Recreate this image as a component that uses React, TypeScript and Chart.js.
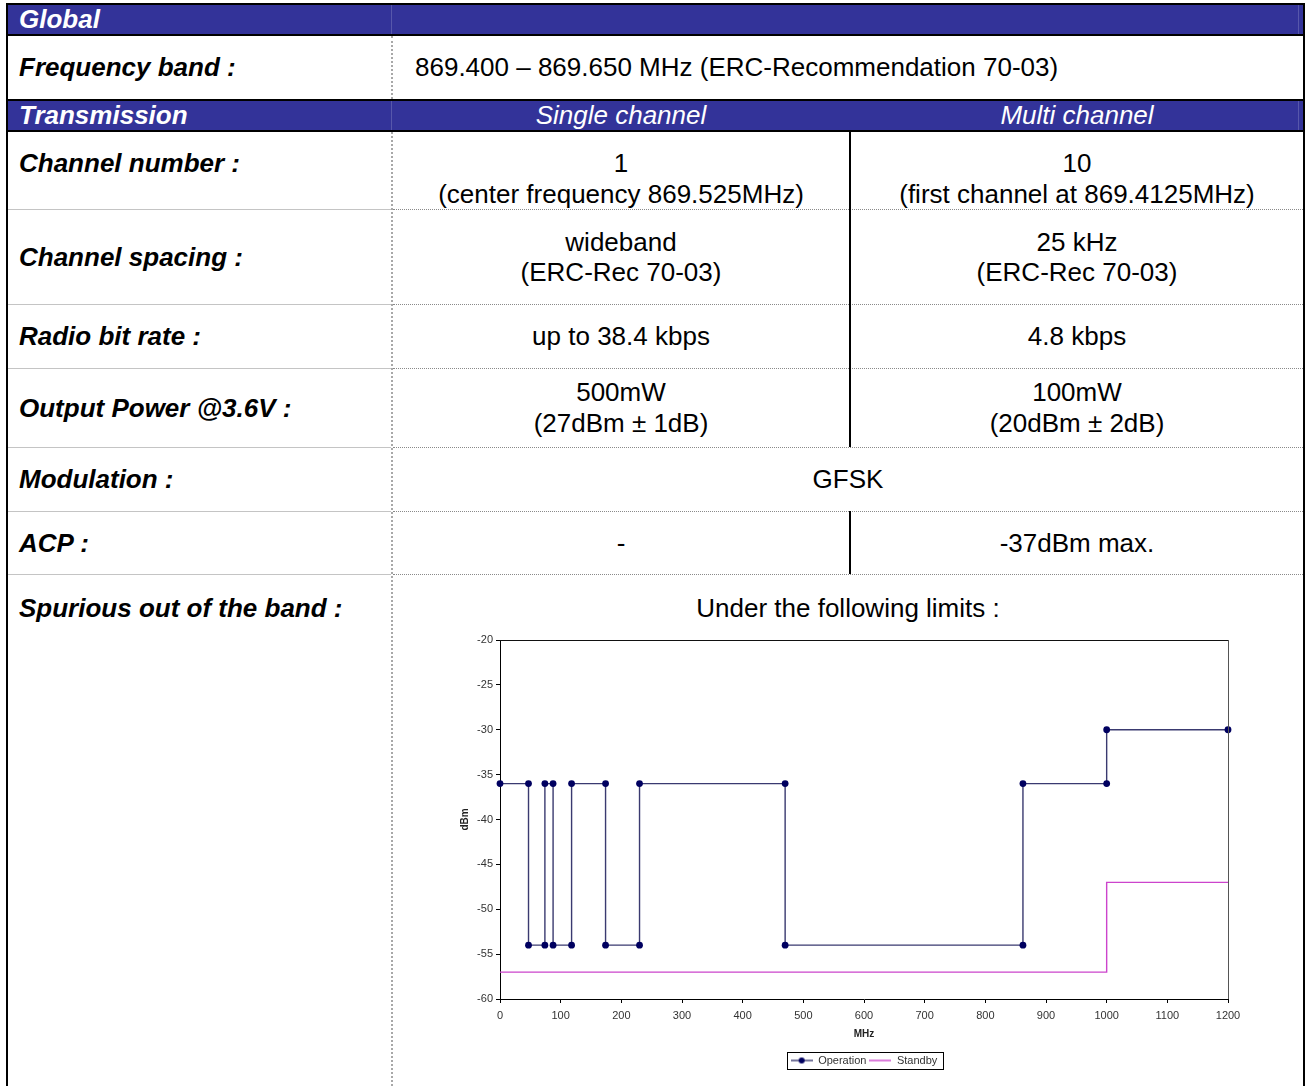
import React, { useEffect, useRef } from "react";
import { Chart, registerables } from "chart.js";

Chart.register(...registerables);

// ---- chart data ----
const operationFreqMHz = [0, 47, 47, 74, 74, 87.5, 87.5, 118, 118, 174, 174, 230, 230, 470, 470, 862, 862, 1000, 1000, 1200];
const operationLevelDbm = [-36, -36, -54, -54, -36, -36, -54, -54, -36, -36, -54, -54, -36, -36, -54, -54, -36, -36, -30, -30];
const standbyFreqMHz = [0, 1000, 1000, 1200];
const standbyLevelDbm = [-57, -57, -47, -47];
const seriesNames = ["Operation", "Standby"];
const xRange = [0, 1200, 100];
const yRange = [-60, -20, 5];
const axisTitles = ["MHz", "dBm"];

const OP_LINE = "#3a3a70";
const OP_MARK = "#000060";
const SB_LINE = "#cc44cc";
const BLUE = "#333399";

function lineIcon(color: string, dot: boolean) {
  const c = document.createElement("canvas");
  c.width = 22;
  c.height = 8;
  const g = c.getContext("2d")!;
  g.strokeStyle = color;
  g.lineWidth = 1.4;
  g.beginPath();
  g.moveTo(0, 4);
  g.lineTo(22, 4);
  g.stroke();
  if (dot) {
    g.fillStyle = OP_MARK;
    g.beginPath();
    g.arc(11, 4, 3, 0, Math.PI * 2);
    g.fill();
  }
  return c;
}

const framePlugin = {
  id: "frame",
  afterDraw(chart: any) {
    const { ctx, chartArea: a } = chart;
    ctx.save();
    ctx.lineWidth = 1;
    ctx.strokeStyle = "#111";
    ctx.beginPath();
    ctx.moveTo(a.left, a.top + 0.5);
    ctx.lineTo(a.right, a.top + 0.5);
    ctx.stroke();
    ctx.strokeStyle = "#555";
    ctx.beginPath();
    ctx.moveTo(a.right + 0.5, a.top);
    ctx.lineTo(a.right + 0.5, a.bottom);
    ctx.stroke();
    const l = chart.legend;
    if (l && l.legendHitBoxes && l.legendHitBoxes.length) {
      let x0 = Infinity, x1 = -Infinity, y0 = Infinity, y1 = -Infinity;
      l.legendHitBoxes.forEach((b: any) => {
        x0 = Math.min(x0, b.left);
        x1 = Math.max(x1, b.left + b.width);
        y0 = Math.min(y0, b.top);
        y1 = Math.max(y1, b.top + b.height);
      });
      ctx.strokeStyle = "#000";
      ctx.lineWidth = 1;
      ctx.strokeRect(Math.round(x0 - 4) + 0.5, Math.round(y0 - 3) + 0.5, Math.round(x1 - x0 + 9), Math.round(y1 - y0 + 6));
    }
    ctx.restore();
  },
};

function SpuriousChart() {
  const ref = useRef<HTMLCanvasElement>(null);
  useEffect(() => {
    if (!ref.current) return;
    const icons = [lineIcon(OP_LINE, true), lineIcon(SB_LINE, false)];
    const chart = new Chart(ref.current, {
      type: "scatter",
      data: {
        datasets: [
          {
            label: seriesNames[0],
            data: operationFreqMHz.map((f, i) => ({ x: f, y: operationLevelDbm[i] })),
            showLine: true,
            borderColor: OP_LINE,
            borderWidth: 1.4,
            pointRadius: 3.4,
            pointBackgroundColor: OP_MARK,
            pointBorderColor: OP_MARK,
            pointBorderWidth: 0,
            clip: false as any,
            order: 1,
          },
          {
            label: seriesNames[1],
            data: standbyFreqMHz.map((f, i) => ({ x: f, y: standbyLevelDbm[i] })),
            showLine: true,
            borderColor: SB_LINE,
            borderWidth: 1.4,
            pointRadius: 0,
            order: 2,
          },
        ],
      },
      options: {
        animation: false,
        responsive: false,
        events: [],
        layout: { padding: { top: 12, bottom: 2, left: 0, right: 60 } },
        scales: {
          x: {
            type: "linear",
            min: xRange[0],
            max: xRange[1],
            afterFit: (s: any) => { s.height = 53; },
            ticks: {
              stepSize: xRange[2],
              autoSkip: false,
              maxRotation: 0,
              padding: 6,
              color: "#333",
              font: { family: "'Liberation Sans', Arial, sans-serif", size: 11 },
              callback: (v: any) => String(v),
            },
            grid: { display: true, drawOnChartArea: false, drawTicks: true, tickLength: 4, color: "#000" },
            border: { display: true, color: "#000", width: 1 },
            title: {
              display: true,
              text: axisTitles[0],
              color: "#222",
              font: { family: "'Liberation Sans', Arial, sans-serif", size: 10, weight: "bold" },
              padding: { top: 0, bottom: 12 },
            },
          },
          y: {
            type: "linear",
            min: yRange[0],
            max: yRange[1],
            afterFit: (s: any) => { s.width = 60; },
            ticks: {
              stepSize: yRange[2],
              padding: 3,
              color: "#333",
              font: { family: "'Liberation Sans', Arial, sans-serif", size: 11 },
              callback: (v: any) => String(v),
            },
            grid: { display: true, drawOnChartArea: false, drawTicks: true, tickLength: 4, color: "#000" },
            border: { display: true, color: "#000", width: 1 },
            title: {
              display: true,
              text: axisTitles[1],
              color: "#222",
              font: { family: "'Liberation Sans', Arial, sans-serif", size: 10, weight: "bold" },
              padding: { top: 19, bottom: 0 },
            },
          },
        },
        plugins: {
          tooltip: { enabled: false },
          legend: {
            display: true,
            position: "bottom",
            fullSize: false,
            labels: {
              usePointStyle: true,
              pointStyleWidth: 22,
              boxHeight: 11,
              padding: 3,
              color: "#333",
              font: { family: "'Liberation Sans', Arial, sans-serif", size: 11 },
              generateLabels: (c: any) =>
                c.data.datasets.map((ds: any, i: number) => ({
                  text: ds.label,
                  pointStyle: icons[i],
                  fillStyle: "transparent",
                  strokeStyle: "transparent",
                  lineWidth: 0,
                  hidden: false,
                  datasetIndex: i,
                  fontColor: "#333",
                })),
            },
          },
        },
      } as any,
      plugins: [framePlugin],
    });
    return () => chart.destroy();
  }, []);
  return (
    <canvas
      ref={ref}
      width={848}
      height={450}
      style={{ position: "absolute", left: 440, top: 628, width: 848, height: 450 }}
    />
  );
}

const FONT = "'Liberation Sans', Arial, Helvetica, sans-serif";

function Rect({ l, t, w, h, bg, style }: any) {
  return <div style={{ position: "absolute", left: l, top: t, width: w, height: h, background: bg, ...style }} />;
}

function Cell({ l, t, w, h, top, left, pt, children, style }: any) {
  return (
    <div
      style={{
        position: "absolute",
        left: l,
        top: t,
        width: w,
        height: h,
        display: "flex",
        flexDirection: "column",
        justifyContent: top ? "flex-start" : "center",
        alignItems: left ? "flex-start" : "center",
        paddingTop: pt || 0,
        boxSizing: "border-box",
        lineHeight: "31px",
        whiteSpace: "nowrap",
        ...style,
      }}
    >
      {children}
    </div>
  );
}

const labelStyle = { fontWeight: "bold", fontStyle: "italic" };

const rowLines = [209, 304, 368, 447, 511, 574];

export default function App() {
  return (
    <div
      style={{
        position: "absolute",
        left: 0,
        top: 0,
        width: 1307,
        height: 1086,
        overflow: "hidden",
        background: "#fff",
        fontFamily: FONT,
        fontSize: 26,
        color: "#000",
      }}
    >
      {/* header bands */}
      <Rect l={8} t={5} w={1295} h={29} bg={BLUE} />
      <Rect l={8} t={101} w={1295} h={29} bg={BLUE} />
      <Rect l={391} t={5} w={1} h={29} bg="rgba(255,255,255,0.18)" />
      <Rect l={391} t={101} w={1} h={29} bg="rgba(255,255,255,0.18)" />
      <Rect l={1298} t={5} w={1} h={29} bg="rgba(255,255,255,0.18)" />
      <Rect l={1298} t={101} w={1} h={29} bg="rgba(255,255,255,0.18)" />
      {/* black rules */}
      <Rect l={6} t={3} w={1299} h={2} bg="#000" />
      <Rect l={6} t={34} w={1299} h={2} bg="#000" />
      <Rect l={6} t={99} w={1299} h={2} bg="#000" />
      <Rect l={6} t={130} w={1299} h={2} bg="#000" />
      <Rect l={6} t={3} w={2} h={1083} bg="#000" />
      <Rect l={1303} t={3} w={2} h={1083} bg="#000" />
      {/* row separators */}
      {rowLines.map((y) => (
        <React.Fragment key={y}>
          <Rect l={8} t={y} w={383} h={1} bg="#c4c4c4" />
          <Rect l={393} t={y} w={910} h={0} style={{ borderTop: "1px dotted #8a8a8a" }} />
        </React.Fragment>
      ))}
      {/* column separators */}
      <Rect l={391} t={36} w={0} h={63} style={{ borderLeft: "2px dotted #a8a8a8" }} />
      <Rect l={391} t={132} w={0} h={954} style={{ borderLeft: "2px dotted #a8a8a8" }} />
      <Rect l={849} t={132} w={2} h={315} bg="#000" />
      <Rect l={849} t={511} w={2} h={63} bg="#000" />

      {/* header text */}
      <Cell l={19} t={5} w={360} h={29} left style={{ ...labelStyle, color: "#fff" }}>Global</Cell>
      <Cell l={19} t={101} w={360} h={29} left style={{ ...labelStyle, color: "#fff" }}>Transmission</Cell>
      <Cell l={393} t={101} w={456} h={29} style={{ fontStyle: "italic", color: "#fff" }}>Single channel</Cell>
      <Cell l={851} t={101} w={452} h={29} style={{ fontStyle: "italic", color: "#fff" }}>Multi channel</Cell>

      {/* frequency band */}
      <Cell l={19} t={36} w={360} h={63} left style={labelStyle}>Frequency band :</Cell>
      <Cell l={415} t={36} w={880} h={63} left>869.400 – 869.650 MHz (ERC-Recommendation 70-03)</Cell>

      {/* channel number */}
      <Cell l={19} t={132} w={360} h={77} left top pt={16} style={labelStyle}>Channel number :</Cell>
      <Cell l={393} t={132} w={456} h={77} top pt={16}>
        <div>1</div>
        <div>(center frequency 869.525MHz)</div>
      </Cell>
      <Cell l={851} t={132} w={452} h={77} top pt={16}>
        <div>10</div>
        <div>(first channel at 869.4125MHz)</div>
      </Cell>

      {/* channel spacing */}
      <Cell l={19} t={210} w={360} h={94} left style={labelStyle}>Channel spacing :</Cell>
      <Cell l={393} t={210} w={456} h={94} style={{ lineHeight: "30px" }}>
        <div>wideband</div>
        <div>(ERC-Rec 70-03)</div>
      </Cell>
      <Cell l={851} t={210} w={452} h={94} style={{ lineHeight: "30px" }}>
        <div>25 kHz</div>
        <div>(ERC-Rec 70-03)</div>
      </Cell>

      {/* radio bit rate */}
      <Cell l={19} t={305} w={360} h={63} left style={labelStyle}>Radio bit rate :</Cell>
      <Cell l={393} t={305} w={456} h={63}>up to 38.4 kbps</Cell>
      <Cell l={851} t={305} w={452} h={63}>4.8 kbps</Cell>

      {/* output power */}
      <Cell l={19} t={369} w={360} h={78} left style={labelStyle}>Output Power @3.6V :</Cell>
      <Cell l={393} t={369} w={456} h={78}>
        <div>500mW</div>
        <div>(27dBm ± 1dB)</div>
      </Cell>
      <Cell l={851} t={369} w={452} h={78}>
        <div>100mW</div>
        <div>(20dBm ± 2dB)</div>
      </Cell>

      {/* modulation */}
      <Cell l={19} t={448} w={360} h={63} left style={labelStyle}>Modulation :</Cell>
      <Cell l={393} t={448} w={910} h={63}>GFSK</Cell>

      {/* ACP */}
      <Cell l={19} t={512} w={360} h={62} left style={labelStyle}>ACP :</Cell>
      <Cell l={393} t={512} w={456} h={62}>-</Cell>
      <Cell l={851} t={512} w={452} h={62}>-37dBm max.</Cell>

      {/* spurious */}
      <Cell l={19} t={575} w={370} h={60} left top pt={18} style={labelStyle}>Spurious out of the band :</Cell>
      <Cell l={393} t={575} w={910} h={60} top pt={18}>Under the following limits :</Cell>

      <SpuriousChart />
    </div>
  );
}
